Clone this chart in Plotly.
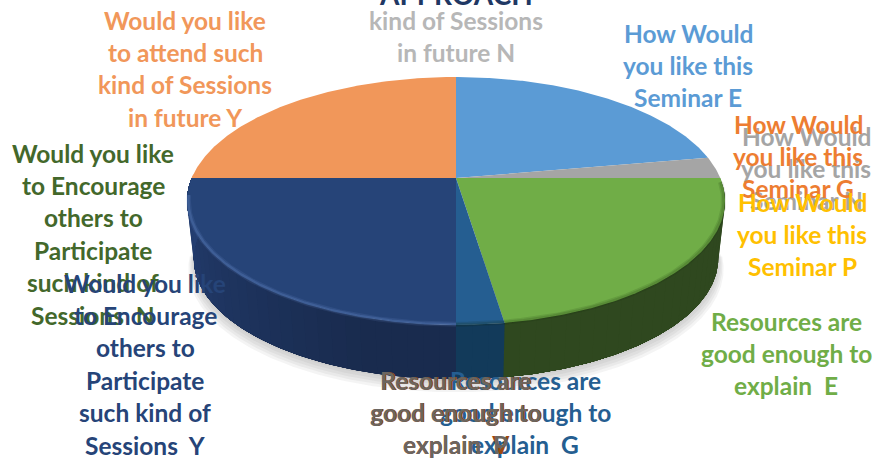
import numpy as np
import plotly.graph_objects as go

# Slices, clockwise from 12 o'clock
slice_names = ["Seminar E", "Seminar G", "Seminar N", "Seminar P",
               "Resources E", "Resources G", "Resources V", "Resources P",
               "Encourage Y", "Encourage N", "Attend Y", "Attend N"]
slice_values = [22.2, 0, 2.8, 0, 22.6, 2.4, 0, 0, 25, 0, 25, 0]
top_colors = ["#5b9bd5", "#ed7d31", "#a5a5a5", "#ffc000",
              "#70ad47", "#255e91", "#9e480e", "#636363",
              "#264478", "#43682b", "#f1975a", "#b7b7b7"]
side_colors = ["#3a6a96", "#a05020", "#707070", "#a08000",
               "#2f481f", "#123a5a", "#602c08", "#404040",
               "#192b4e", "#2a4018", "#a06038", "#808080"]

title_text = "APPROACH"
title_color = "#1f3864"
# (lines, centre x, y of the first line, colour), in painting order
label_lines = [
    (["Would you like", "to attend such", "kind of Sessions", "in future Y"], 185, 20, "#f1975a"),
    (["kind of Sessions", "in future N"], 456, 20, "#b7b7b7"),
    (["How Would", "you like this", "Seminar E"], 688, 33, "#5b9bd5"),
    (["How Would", "you like this", "Seminar N"], 806, 136, "#a5a5a5"),
    (["How Would", "you like this", "Seminar G"], 798, 124, "#ed7d31"),
    (["How Would", "you like this", "Seminar P"], 802, 202, "#ffc000"),
    (["Resources are", "good enough to", "explain  E"], 786, 321, "#70ad47"),
    (["Resources are", "good enough to", "explain  G"], 525, 380, "#255e91"),
    (["Resources are", "good enough to", "explain  V"], 456, 380, "#9e480e"),
    (["Resources are", "good enough to", "explain  P"], 455, 380, "#6b6560"),
    (["Would you like", "to Encourage", "others to", "Participate", "such kind of", "Sessions  N"], 93, 153, "#43682b"),
    (["Would you like", "to Encourage", "others to", "Participate", "such kind of", "Sessions  Y"], 145, 283, "#264478"),
]

# Perspective of the tilted disc, in pixels of the 877x459 picture
CX, CY = 456.0, 178.0
A, B, K = 119.7, 264.3, 0.1855
DEPTH = 58.0
BOTTOM_SCALE = 0.975
LINE_STEP = 32.4
FONT = "Lato"
FONT_SIZE = 24.5


def rim(t0, t1, scale=1.0, dy=0.0):
    t = np.radians(np.linspace(t0, t1, max(int(abs(t1 - t0)) * 2, 2) + 1))
    u, v = np.sin(t), np.cos(t)
    d = 1 + K * v
    return CX + scale * B * u / d, CY + dy - scale * A * v / d


def lighten(color, f):
    rgb = [int(color[i:i + 2], 16) for i in (1, 3, 5)]
    return "rgb({},{},{})".format(*[min(255, int(c * f)) for c in rgb])


fig = go.Figure()


def poly(xs, ys, color):
    fig.add_trace(go.Scatter(x=xs, y=ys, mode="lines", fill="toself", fillcolor=color,
                             line=dict(width=0), hoverinfo="skip", showlegend=False))


def stroke(xs, ys, color, width):
    fig.add_trace(go.Scatter(x=xs, y=ys, mode="lines", hoverinfo="skip", showlegend=False,
                             line=dict(width=width, color=color)))


# soft shadow under the disc
for s, dy in [(0.995, 68), (0.99, 66), (0.985, 64), (0.98, 62), (0.975, 60)]:
    xs, ys = rim(95, 265, s, dy)
    poly(xs, ys, "rgba(110,110,110,0.08)")

bounds = np.cumsum([0] + slice_values) / sum(slice_values) * 360.0

# side wall: each step is painted from its start to the slice's end, so no seams show
for i, val in enumerate(slice_values):
    if val == 0:
        continue
    a0, a1 = max(bounds[i], 90.0), min(bounds[i + 1], 272.0)
    if a1 <= a0:
        continue
    edges = np.linspace(a0, a1, int((a1 - a0) / 3) + 2)
    for e0, e1 in zip(edges[:-1], edges[1:]):
        x1, y1 = rim(e0, a1)
        x2, y2 = rim(a1, e0, BOTTOM_SCALE, DEPTH)
        shade = 1 + 0.45 * np.clip((0.5 * (e0 + e1) - 195) / 70, 0, 1)
        poly(np.r_[x1, x2], np.r_[y1, y2], lighten(side_colors[i], shade))

# top face
for i, val in enumerate(slice_values):
    if val == 0:
        continue
    x, y = rim(bounds[i], bounds[i + 1])
    poly(np.r_[CX, x, CX], np.r_[CY, y, CY], top_colors[i])

# bevel along the front rim
for i, val in enumerate(slice_values):
    if val == 0:
        continue
    a0, a1 = max(bounds[i], 92.0), min(bounds[i + 1], 262.0)
    if a1 <= a0:
        continue
    xb, yb = rim(a0, a1, 0.995)
    if slice_names[i] == "Encourage Y":
        stroke(xb, yb, "rgba(120,160,225,0.12)", 5)
        stroke(xb, yb, "rgba(120,160,225,0.20)", 2.5)
    else:
        stroke(xb, yb, "rgba(20,40,10,0.12)", 5)
        stroke(xb, yb, "rgba(20,40,10,0.15)", 2.5)

annotations = []
for lines, lx, ly, col in label_lines:
    for j, txt in enumerate(lines):
        annotations.append(dict(x=lx, y=ly + j * LINE_STEP, text=txt, xref="x", yref="y",
                                showarrow=False, xanchor="center", yanchor="middle",
                                font=dict(family=FONT, size=FONT_SIZE, color=col, weight=700)))
annotations.append(dict(x=456, y=1.0 + 6 / 459, text=title_text, xref="x", yref="paper", showarrow=False,
                        xanchor="center", yanchor="middle",
                        font=dict(family=FONT, size=28, color=title_color, weight=700)))

fig.update_layout(
    width=877, height=459, margin=dict(l=0, r=0, t=0, b=0),
    paper_bgcolor="white", plot_bgcolor="white", showlegend=False,
    xaxis=dict(range=[0, 877], visible=False, fixedrange=True),
    yaxis=dict(range=[459, 0], visible=False, fixedrange=True),
    annotations=annotations,
)
fig.write_html("out.html", post_script="document.body.style.margin='0';document.body.style.overflow='hidden';",
               config={"displayModeBar": False})
